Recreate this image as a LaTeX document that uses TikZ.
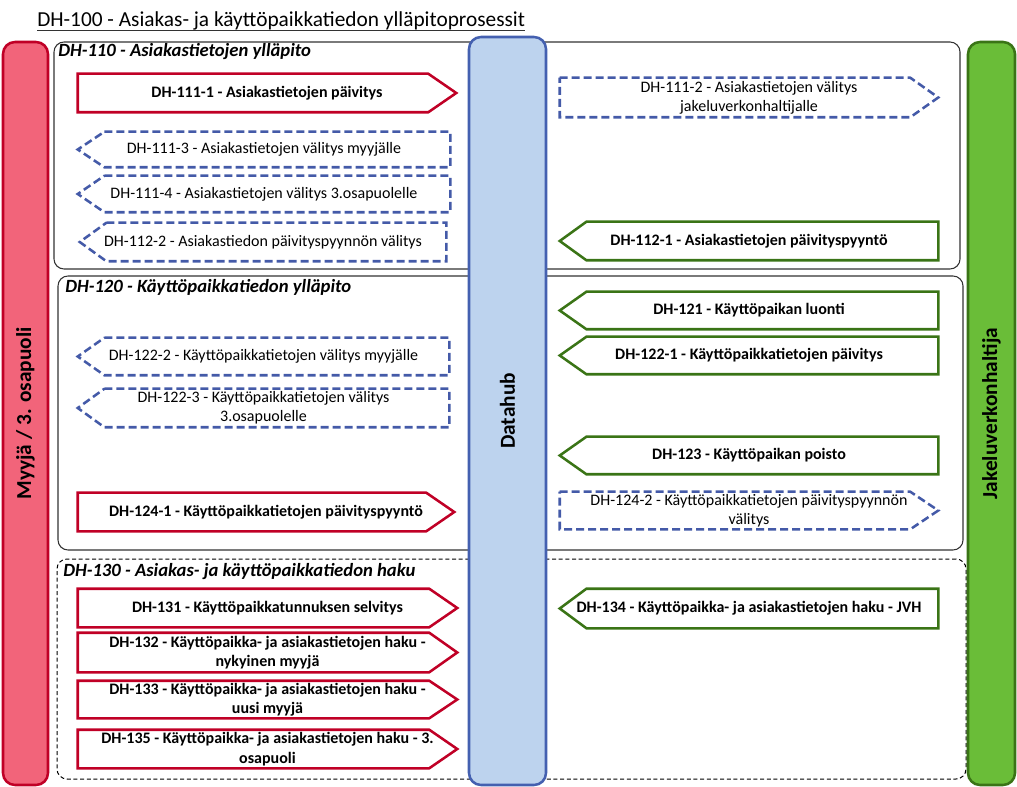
\documentclass[tikz,border=0pt]{standalone}
\usepackage{fontspec}
\setmainfont{Carlito}
\usepackage{tikz}
\usetikzlibrary{positioning}
\definecolor{punainen}{RGB}{192, 0, 38}
\definecolor{pinkki}{RGB}{242, 100, 122}
\definecolor{sininen}{RGB}{68, 96, 176}
\definecolor{vaaleansininen}{RGB}{189, 211, 238}
\definecolor{vihrea}{RGB}{58, 116, 22}
\definecolor{kirkasvihrea}{RGB}{106, 189, 56}
\definecolor{katkosininen}{RGB}{68, 90, 168}
\tikzset{
    kaista/.style={draw, rounded corners=9pt, line width=1.9pt, rotate=90, inner sep=0pt, font=\fontsize{16}{19}\selectfont\bfseries},
    ryhma/.style={draw=black!80, rounded corners=7.5pt, line width=0.8pt, inner sep=0pt},
    ryhmaotsikko/.style={anchor=base west, inner sep=0pt, font=\fontsize{14}{16}\selectfont\bfseries\itshape},
    teksti/.style={inner sep=0pt, align=center, font=\fontsize{12}{14.5}\selectfont},
    lihava/.style={teksti, font=\fontsize{12}{14.5}\selectfont\bfseries},
    punapijl/.style={draw=punainen, line width=1.9pt, line join=miter},
    vihreapijl/.style={draw=vihrea, line width=1.9pt, line join=miter},
    katkopijl/.style={draw=katkosininen, line width=1.9pt, dash pattern=on 6pt off 3pt},
}
% piirtotyyli, tekstityyli, nimi, x1, y1, x2, y2, teksti
\newcommand{\oikealle}[8]{%
    \node[#2, minimum width={(#6-#4)*0.75pt}, minimum height={(#7-#5)*0.75pt}] (#3) at ({(#4+#6)/2},{(#5+#7)/2}) {#8};
    \draw[#1] (#3.north west) -- ([xshift=-21pt]#3.north east) -- (#3.east) -- ([xshift=-21pt]#3.south east) -- (#3.south west) -- cycle;
}
\newcommand{\vasemmalle}[8]{%
    \node[#2, minimum width={(#6-#4)*0.75pt}, minimum height={(#7-#5)*0.75pt}] (#3) at ({(#4+#6)/2},{(#5+#7)/2}) {#8};
    \draw[#1] ([xshift=20pt]#3.north west) -- (#3.north east) -- (#3.south east) -- ([xshift=20pt]#3.south west) -- (#3.west) -- cycle;
}

\begin{document}
\begin{tikzpicture}[x=0.75pt, y=-0.75pt]
    \useasboundingbox (0,0) rectangle (1017,787);

    % otsikko
    \node[anchor=base west, inner sep=0pt, font=\fontsize{16}{19}\selectfont] (paaotsikko) at (37,27) {DH-100 - Asiakas- ja käyttöpaikkatiedon ylläpitoprosessit};
    \draw[black!80, line width=0.75pt] ([yshift=-3pt]paaotsikko.base west) -- ([yshift=-3pt]paaotsikko.base east);

    % ryhmat
    \node[ryhma, minimum width={906*0.75pt}, minimum height={227*0.75pt}] (dh110) at (507,155.5) {};
    \node[ryhma, minimum width={905*0.75pt}, minimum height={274*0.75pt}] (dh120) at (510.5,413) {};
    \node[ryhma, draw=black, line width=0.75pt, dash pattern=on 3pt off 2pt, minimum width={909*0.75pt}, minimum height={220*0.75pt}] (dh130) at (511.5,669) {};
    \node[ryhmaotsikko] (otsikko110) at (58,57) {DH-110 - Asiakastietojen ylläpito};
    \node[ryhmaotsikko] (otsikko120) at (65,293) {DH-120 - Käyttöpaikkatiedon ylläpito};
    \node[ryhmaotsikko] (otsikko130) at (63,576) {DH-130 - Asiakas- ja käyttöpaikkatiedon haku};

    % kaistat
    \node[kaista, fill=pinkki, draw=punainen, minimum width={743*0.75pt}, minimum height={45*0.75pt}] (myyja) at (25.5,413.5) {Myyjä / 3. osapuoli};
    \node[kaista, fill=vaaleansininen, draw=sininen, minimum width={748*0.75pt}, minimum height={77*0.75pt}] (datahub) at (507.5,411) {Datahub};
    \node[kaista, fill=kirkasvihrea, draw=vihrea, minimum width={743*0.75pt}, minimum height={47*0.75pt}] (jvh) at (991.5,413.5) {Jakeluverkonhaltija};

    % DH-110
    \oikealle{punapijl}{lihava}{dh1111}{78}{74}{456}{112}{DH-111-1 - Asiakastietojen päivitys}
    \oikealle{katkopijl}{teksti}{dh1112}{560}{78}{938}{117}{DH-111-2 - Asiakastietojen välitys\\jakeluverkonhaltijalle}
    \vasemmalle{katkopijl}{teksti}{dh1113}{78}{132}{450}{167}{DH-111-3 - Asiakastietojen välitys myyjälle}
    \vasemmalle{katkopijl}{teksti}{dh1114}{78}{176}{450}{212}{DH-111-4 - Asiakastietojen välitys 3.osapuolelle}
    \vasemmalle{katkopijl}{teksti}{dh1122}{80}{223}{446}{261}{DH-112-2 - Asiakastiedon päivityspyynnön välitys}
    \vasemmalle{vihreapijl}{lihava}{dh1121}{560}{222}{938}{260}{DH-112-1 - Asiakastietojen päivityspyyntö}

    % DH-120
    \vasemmalle{vihreapijl}{lihava}{dh121}{560}{292}{938}{329}{DH-121 - Käyttöpaikan luonti}
    \vasemmalle{vihreapijl}{lihava}{dh1221}{560}{337}{938}{374}{DH-122-1 - Käyttöpaikkatietojen päivitys}
    \vasemmalle{vihreapijl}{lihava}{dh123}{560}{437}{938}{474}{DH-123 - Käyttöpaikan poisto}
    \vasemmalle{katkopijl}{teksti}{dh1222}{78}{338}{449}{375}{DH-122-2 - Käyttöpaikkatietojen välitys myyjälle}
    \vasemmalle{katkopijl}{teksti}{dh1223}{78}{389}{449}{427}{DH-122-3 - Käyttöpaikkatietojen välitys\\3.osapuolelle}
    \oikealle{punapijl}{lihava}{dh1241}{78}{493}{454}{531}{DH-124-1 - Käyttöpaikkatietojen päivityspyyntö}
    \oikealle{katkopijl}{teksti}{dh1242}{560}{492}{938}{529}{DH-124-2 - Käyttöpaikkatietojen päivityspyynnön\\välitys}

    % DH-130
    \oikealle{punapijl}{lihava}{dh131}{78}{589}{457}{627}{DH-131 - Käyttöpaikkatunnuksen selvitys}
    \oikealle{punapijl}{lihava}{dh132}{78}{633}{457}{672}{DH-132 - Käyttöpaikka- ja asiakastietojen haku -\\nykyinen myyjä}
    \oikealle{punapijl}{lihava}{dh133}{78}{681}{457}{718}{DH-133 - Käyttöpaikka- ja asiakastietojen haku -\\uusi myyjä}
    \oikealle{punapijl}{lihava}{dh135}{78}{730}{457}{768}{DH-135 - Käyttöpaikka- ja asiakastietojen haku - 3.\\osapuoli}
    \vasemmalle{vihreapijl}{lihava}{dh134}{560}{589}{938}{628}{DH-134 - Käyttöpaikka- ja asiakastietojen haku - JVH}
\end{tikzpicture}
\end{document}
